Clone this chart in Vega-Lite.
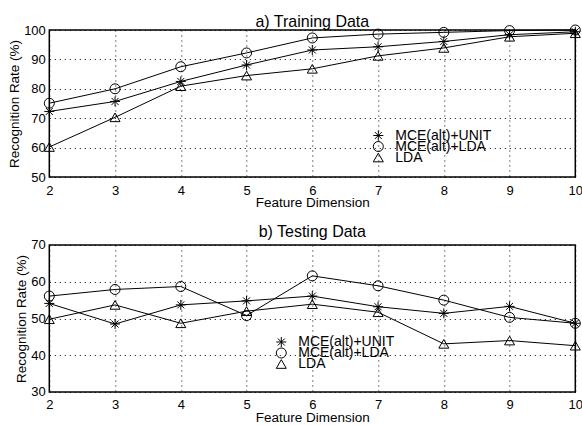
{
  "$schema": "https://vega.github.io/schema/vega-lite/v6.json",
  "padding": {"left": 6.3, "top": 12, "right": 2, "bottom": 4},
  "background": "white",
  "bounds": "flush",
  "spacing": 68,
  "resolve": {"scale": {"shape": "independent", "y": "independent"}, "legend": {"shape": "independent"}},
  "config": {
    "font": "Liberation Sans",
    "view": {"stroke": "black", "strokeWidth": 1.5},
    "axis": {
      "domain": false,
      "ticks": false,
      "grid": true,
      "gridColor": "black",
      "gridDash": [1, 4],
      "gridWidth": 1,
      "gridOpacity": 1,
      "labelColor": "black",
      "labelFontSize": 13,
      "labelOverlap": false,
      "labelFlush": false,
      "titleColor": "black",
      "titleFontSize": 13.5,
      "titleFontWeight": "normal"
    },
    "title": {"fontSize": 16, "fontWeight": "normal", "color": "black"},
    "legend": {
      "labelFontSize": 14,
      "labelColor": "black",
      "padding": 0,
      "labelOffset": 10,
      "gridAlign": "none",
      "symbolStrokeColor": "black",
      "symbolStrokeWidth": 1,
      "symbolSize": 100
    }
  },
  "datasets": {
    "train": [
      {"dim": 2, "method": "MCE(alt)+UNIT", "rate": 72.3},
      {"dim": 3, "method": "MCE(alt)+UNIT", "rate": 75.7},
      {"dim": 4, "method": "MCE(alt)+UNIT", "rate": 82.5},
      {"dim": 5, "method": "MCE(alt)+UNIT", "rate": 88.1},
      {"dim": 6, "method": "MCE(alt)+UNIT", "rate": 93.2},
      {"dim": 7, "method": "MCE(alt)+UNIT", "rate": 94.3},
      {"dim": 8, "method": "MCE(alt)+UNIT", "rate": 96.1},
      {"dim": 9, "method": "MCE(alt)+UNIT", "rate": 98.4},
      {"dim": 10, "method": "MCE(alt)+UNIT", "rate": 99.4},
      {"dim": 2, "method": "MCE(alt)+LDA", "rate": 75.1},
      {"dim": 3, "method": "MCE(alt)+LDA", "rate": 80.0},
      {"dim": 4, "method": "MCE(alt)+LDA", "rate": 87.5},
      {"dim": 5, "method": "MCE(alt)+LDA", "rate": 92.2},
      {"dim": 6, "method": "MCE(alt)+LDA", "rate": 97.3},
      {"dim": 7, "method": "MCE(alt)+LDA", "rate": 98.6},
      {"dim": 8, "method": "MCE(alt)+LDA", "rate": 99.2},
      {"dim": 9, "method": "MCE(alt)+LDA", "rate": 99.8},
      {"dim": 10, "method": "MCE(alt)+LDA", "rate": 100.0},
      {"dim": 2, "method": "LDA", "rate": 60.2},
      {"dim": 3, "method": "LDA", "rate": 70.3},
      {"dim": 4, "method": "LDA", "rate": 80.9},
      {"dim": 5, "method": "LDA", "rate": 84.5},
      {"dim": 6, "method": "LDA", "rate": 86.8},
      {"dim": 7, "method": "LDA", "rate": 91.2},
      {"dim": 8, "method": "LDA", "rate": 93.9},
      {"dim": 9, "method": "LDA", "rate": 97.7},
      {"dim": 10, "method": "LDA", "rate": 98.9}
    ],
    "test": [
      {"dim": 2, "method": "MCE(alt)+UNIT", "rate": 54.1},
      {"dim": 3, "method": "MCE(alt)+UNIT", "rate": 48.5},
      {"dim": 4, "method": "MCE(alt)+UNIT", "rate": 53.7},
      {"dim": 5, "method": "MCE(alt)+UNIT", "rate": 54.8},
      {"dim": 6, "method": "MCE(alt)+UNIT", "rate": 56.1},
      {"dim": 7, "method": "MCE(alt)+UNIT", "rate": 53.2},
      {"dim": 8, "method": "MCE(alt)+UNIT", "rate": 51.4},
      {"dim": 9, "method": "MCE(alt)+UNIT", "rate": 53.3},
      {"dim": 10, "method": "MCE(alt)+UNIT", "rate": 48.7},
      {"dim": 2, "method": "MCE(alt)+LDA", "rate": 56.1},
      {"dim": 3, "method": "MCE(alt)+LDA", "rate": 57.9},
      {"dim": 4, "method": "MCE(alt)+LDA", "rate": 58.7},
      {"dim": 5, "method": "MCE(alt)+LDA", "rate": 50.8},
      {"dim": 6, "method": "MCE(alt)+LDA", "rate": 61.6},
      {"dim": 7, "method": "MCE(alt)+LDA", "rate": 58.9},
      {"dim": 8, "method": "MCE(alt)+LDA", "rate": 55.0},
      {"dim": 9, "method": "MCE(alt)+LDA", "rate": 50.3},
      {"dim": 10, "method": "MCE(alt)+LDA", "rate": 48.7},
      {"dim": 2, "method": "LDA", "rate": 49.8},
      {"dim": 3, "method": "LDA", "rate": 53.7},
      {"dim": 4, "method": "LDA", "rate": 48.7},
      {"dim": 5, "method": "LDA", "rate": 52.0},
      {"dim": 6, "method": "LDA", "rate": 53.9},
      {"dim": 7, "method": "LDA", "rate": 51.7},
      {"dim": 8, "method": "LDA", "rate": 43.1},
      {"dim": 9, "method": "LDA", "rate": 44.0},
      {"dim": 10, "method": "LDA", "rate": 42.6}
    ]
  },
  "vconcat": [
    {
      "width": 526,
      "height": 147,
      "title": {"text": "a) Training Data", "offset": -6.7},
      "data": {"name": "train"},
      "encoding": {
        "x": {"field": "dim", "type": "quantitative", "scale": {"domain": [2, 10], "nice": false, "zero": false},
              "axis": {"values": [2, 3, 4, 5, 6, 7, 8, 9, 10], "format": "d", "title": "Feature Dimension", "labelPadding": 7, "titlePadding": -1.5}},
        "y": {"field": "rate", "type": "quantitative", "scale": {"domain": [50, 100], "nice": false, "zero": false},
              "axis": {"values": [50, 60, 70, 80, 90, 100], "tickCount": 6, "title": "Recognition Rate (%)", "labelPadding": 4, "titlePadding": 2}}
      },
      "layer": [
        {
          "mark": {"type": "line", "color": "black", "strokeWidth": 1},
          "encoding": {"detail": {"field": "method"}}
        },
        {
          "mark": {"type": "point", "filled": false, "color": "black", "strokeWidth": 1, "size": 100, "opacity": 1},
          "encoding": {
            "shape": {
              "field": "method", "type": "nominal",
              "scale": {"domain": ["MCE(alt)+UNIT", "MCE(alt)+LDA", "LDA"],
                        "range": ["M-1,0L1,0M0,-1L0,1M-0.7,-0.7L0.7,0.7M-0.7,0.7L0.7,-0.7", "circle", "triangle-up"]},
              "legend": {"title": null, "orient": "none", "legendX": 322, "legendY": 98.5, "rowPadding": -3}
            }
          }
        }
      ]
    },
    {
      "width": 526,
      "height": 147,
      "title": {"text": "b) Testing Data", "offset": -1},
      "data": {"name": "test"},
      "encoding": {
        "x": {"field": "dim", "type": "quantitative", "scale": {"domain": [2, 10], "nice": false, "zero": false},
              "axis": {"values": [2, 3, 4, 5, 6, 7, 8, 9, 10], "format": "d", "title": "Feature Dimension", "labelPadding": 7, "titlePadding": -1.5}},
        "y": {"field": "rate", "type": "quantitative", "scale": {"domain": [30, 70], "nice": false, "zero": false},
              "axis": {"values": [30, 40, 50, 60, 70], "tickCount": 5, "title": "Recognition Rate (%)", "labelPadding": 4, "titlePadding": 2}}
      },
      "layer": [
        {
          "mark": {"type": "line", "color": "black", "strokeWidth": 1},
          "encoding": {"detail": {"field": "method"}}
        },
        {
          "mark": {"type": "point", "filled": false, "color": "black", "strokeWidth": 1, "size": 100, "opacity": 1},
          "encoding": {
            "shape": {
              "field": "method", "type": "nominal",
              "scale": {"domain": ["MCE(alt)+UNIT", "MCE(alt)+LDA", "LDA"],
                        "range": ["M-1,0L1,0M0,-1L0,1M-0.7,-0.7L0.7,0.7M-0.7,0.7L0.7,-0.7", "circle", "triangle-up"]},
              "legend": {"title": null, "orient": "none", "legendX": 225, "legendY": 90, "rowPadding": -3}
            }
          }
        }
      ]
    }
  ]
}
